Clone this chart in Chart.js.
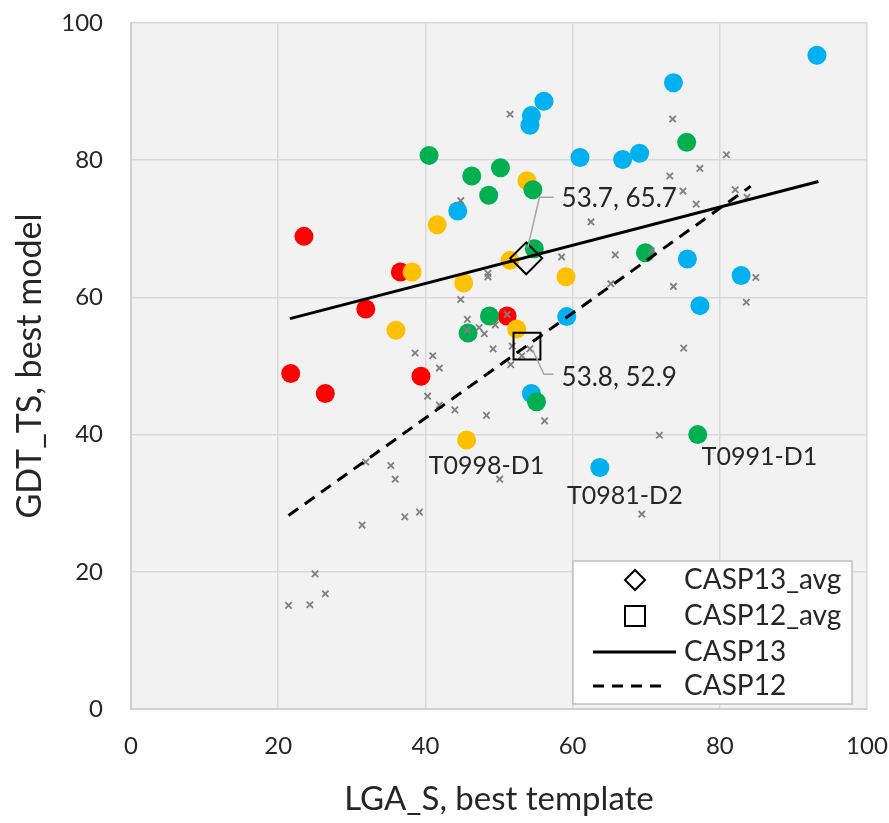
<!DOCTYPE html>
<html>
<head>
<meta charset="utf-8">
<script src="https://cdn.jsdelivr.net/npm/chart.js@4.4.1/dist/chart.umd.min.js"></script>
<style>
  html, body { margin: 0; padding: 0; background: #fff; }
  #chart { display: block; }
</style>
</head>
<body>
<canvas id="chart" width="889" height="823"></canvas>
<script>
// axis ticks
const xTicks = [0, 20, 40, 60, 80, 100];
const yTicks = [0, 20, 40, 60, 80, 100];

// CASP13 targets, coloured by group
const redX = [21.7, 23.5, 26.4, 31.9, 36.6, 39.4, 51.1];
const redY = [48.9, 68.9, 46.0, 58.3, 63.7, 48.5, 57.3];

const yellowX = [36.0, 38.2, 41.6, 45.2, 45.6, 51.5, 52.4, 53.8, 59.1];
const yellowY = [55.2, 63.7, 70.6, 62.1, 39.2, 65.4, 55.4, 77.0, 63.0];

const greenX = [40.5, 46.3, 48.6, 50.2, 54.6, 54.8, 48.7, 45.8, 55.1, 69.9, 75.5, 77.0];
const greenY = [80.7, 77.7, 74.9, 78.9, 75.7, 67.1, 57.3, 54.8, 44.8, 66.5, 82.6, 40.0];

const blueX = [44.4, 54.2, 54.4, 56.1, 54.4, 59.2, 61.0, 66.8, 69.1, 63.7, 73.7, 75.6, 77.3, 82.9, 93.2];
const blueY = [72.6, 85.1, 86.5, 88.6, 46.0, 57.2, 80.4, 80.1, 81.0, 35.2, 91.3, 65.6, 58.8, 63.2, 95.3];

// CASP12 targets (grey crosses)
const casp12X = [51.5, 73.6, 80.9, 77.3, 73.2, 75.0, 82.1, 83.7, 76.8, 44.8, 62.5, 58.5, 65.8, 70.7,
  48.5, 48.5, 84.9, 65.2, 73.7, 44.8, 83.6, 51.1, 45.7, 45.7, 47.3, 48.0, 49.5, 38.6, 41.0, 41.9,
  49.2, 51.8, 54.2, 53.1, 51.6, 75.1, 40.3, 41.9, 44.0, 48.3, 56.2, 71.8, 31.9, 35.3, 35.9, 50.1,
  39.2, 37.2, 31.4, 69.4, 25.0, 26.4, 21.4, 24.3];
const casp12Y = [86.7, 86.0, 80.8, 78.8, 77.7, 75.5, 75.7, 74.6, 73.6, 74.1, 71.0, 65.9, 66.2, 66.8,
  63.5, 63.0, 62.9, 62.0, 61.6, 59.7, 59.3, 57.5, 56.8, 55.2, 55.6, 54.7, 56.0, 51.9, 51.5, 49.7,
  52.5, 52.9, 52.5, 51.5, 50.2, 52.6, 45.6, 44.3, 43.6, 42.8, 42.0, 39.9, 36.0, 35.5, 33.5, 33.5,
  28.7, 28.0, 26.8, 28.4, 19.7, 16.8, 15.1, 15.2];

// averages
const casp13Avg = [53.7, 65.7];
const casp12Avg = [53.8, 52.9];

// linear trend lines (end points)
const casp13TrendX = [21.6, 93.4];
const casp13TrendY = [56.9, 76.9];
const casp12TrendX = [21.4, 84.2];
const casp12TrendY = [28.2, 76.2];

// text annotations, positions in data units
const avgLabels = [
  { text: '53.7, 65.7', from: [53.9, 67.3], bend: [55.5, 74.6], to: [57.4, 74.6], at: [58.5, 74.4] },
  { text: '53.8, 52.9', from: [54.6, 52.3], bend: [56.1, 48.8], to: [57.4, 48.8], at: [58.5, 48.3] },
];
const targetLabels = [
  ['T0998-D1', 48.3, 35.4],
  ['T0981-D2', 67.1, 31.0],
  ['T0991-D1', 85.4, 36.7],
];

const legendItems = ['CASP13_avg', 'CASP12_avg', 'CASP13', 'CASP12'];

const FONT = 'Lato, "Open Sans", sans-serif';
const TEXT_COLOR = '#262626';

const toPoints = (xs, ys) => xs.map((x, i) => ({ x: x, y: ys[i] }));

function dotSet(label, xs, ys, color, order) {
  return {
    label: label,
    data: toPoints(xs, ys),
    pointStyle: 'circle',
    pointRadius: 9.5,
    pointBorderWidth: 0,
    backgroundColor: color,
    borderColor: color,
    order: order,
  };
}

const plotBackground = {
  id: 'plotBackground',
  beforeDraw(chart) {
    const { ctx, chartArea: a } = chart;
    ctx.save();
    ctx.fillStyle = '#f2f2f2';
    ctx.fillRect(a.left, a.top, a.width, a.height);
    ctx.restore();
  },
};

const annotations = {
  id: 'annotations',
  afterDatasetsDraw(chart) {
    const { ctx, scales: { x, y } } = chart;
    const px = (p) => [x.getPixelForValue(p[0]), y.getPixelForValue(p[1])];
    ctx.save();
    // leader lines + avg labels
    avgLabels.forEach((a) => {
      const f = px(a.from), b = px(a.bend), t = px(a.to), at = px(a.at);
      ctx.strokeStyle = '#a6a6a6';
      ctx.lineWidth = 1.5;
      ctx.beginPath();
      ctx.moveTo(f[0], f[1]);
      ctx.lineTo(b[0], b[1]);
      ctx.lineTo(t[0], t[1]);
      ctx.stroke();
      ctx.fillStyle = TEXT_COLOR;
      ctx.font = '26px ' + FONT;
      ctx.textAlign = 'left';
      ctx.textBaseline = 'middle';
      ctx.fillText(a.text, at[0], at[1]);
    });
    // target labels
    ctx.font = '25px ' + FONT;
    ctx.textAlign = 'center';
    ctx.textBaseline = 'middle';
    targetLabels.forEach(([text, vx, vy]) => {
      const p = px([vx, vy]);
      ctx.fillText(text, p[0], p[1]);
    });
    ctx.restore();
  },
  afterDraw(chart) {
    // legend box in the bottom right of the plot
    const { ctx, chartArea: a } = chart;
    const w = 279, h = 143;
    const left = a.right - 15 - w, top = a.bottom - 5 - h;
    ctx.save();
    ctx.fillStyle = '#ffffff';
    ctx.strokeStyle = '#bfbfbf';
    ctx.lineWidth = 1.5;
    ctx.fillRect(left, top, w, h);
    ctx.strokeRect(left, top, w, h);

    const markX = left + 62;
    const textX = left + 111;
    const rowY = [top + 19, top + 55, top + 91, top + 125];
    ctx.strokeStyle = '#000';
    ctx.lineWidth = 2;
    // diamond
    ctx.beginPath();
    ctx.moveTo(markX, rowY[0] - 10);
    ctx.lineTo(markX + 10, rowY[0]);
    ctx.lineTo(markX, rowY[0] + 10);
    ctx.lineTo(markX - 10, rowY[0]);
    ctx.closePath();
    ctx.stroke();
    // square
    ctx.strokeRect(markX - 10, rowY[1] - 10, 20, 20);
    // solid line
    ctx.lineWidth = 3;
    ctx.beginPath();
    ctx.moveTo(left + 20, rowY[2]);
    ctx.lineTo(left + 103, rowY[2]);
    ctx.stroke();
    // dashed line
    ctx.setLineDash([11, 8]);
    ctx.beginPath();
    ctx.moveTo(left + 20, rowY[3]);
    ctx.lineTo(left + 96, rowY[3]);
    ctx.stroke();
    ctx.setLineDash([]);

    ctx.fillStyle = TEXT_COLOR;
    ctx.font = '28px ' + FONT;
    ctx.textAlign = 'left';
    ctx.textBaseline = 'middle';
    legendItems.forEach((t, i) => ctx.fillText(t, textX, rowY[i]));
    ctx.restore();
  },
};

const ctx = document.getElementById('chart').getContext('2d');
new Chart(ctx, {
  type: 'scatter',
  data: {
    datasets: [
      {
        label: 'CASP13_avg',
        data: [{ x: casp13Avg[0], y: casp13Avg[1] }],
        pointStyle: 'rectRot',
        pointRadius: 16,
        pointBorderWidth: 2,
        borderColor: '#000',
        backgroundColor: 'rgba(0,0,0,0)',
        order: 1,
      },
      {
        label: 'CASP12_avg',
        data: [{ x: casp12Avg[0], y: casp12Avg[1] }],
        pointStyle: 'rect',
        pointRadius: 19,
        pointBorderWidth: 2,
        borderColor: '#000',
        backgroundColor: 'rgba(0,0,0,0)',
        order: 2,
      },
      {
        label: 'CASP13',
        type: 'line',
        data: toPoints(casp13TrendX, casp13TrendY),
        borderColor: '#000',
        borderWidth: 3,
        pointRadius: 0,
        fill: false,
        order: 3,
      },
      {
        label: 'CASP12',
        type: 'line',
        data: toPoints(casp12TrendX, casp12TrendY),
        borderColor: '#000',
        borderWidth: 3,
        borderDash: [12, 8],
        pointRadius: 0,
        fill: false,
        order: 4,
      },
      {
        label: 'CASP12 targets',
        data: toPoints(casp12X, casp12Y),
        pointStyle: 'crossRot',
        pointRadius: 4.5,
        pointBorderWidth: 1.8,
        borderColor: '#7f7f7f',
        backgroundColor: '#7f7f7f',
        order: 5,
      },
      dotSet('green', greenX, greenY, '#00b050', 6),
      dotSet('yellow', yellowX, yellowY, '#ffc000', 7),
      dotSet('red', redX, redY, '#ff0000', 8),
      dotSet('blue', blueX, blueY, '#00b0f0', 9),
    ],
  },
  options: {
    responsive: false,
    animation: false,
    events: [],
    layout: { padding: { left: 0, top: 23, right: 22, bottom: 0 } },
    plugins: {
      legend: { display: false },
      tooltip: { enabled: false },
    },
    scales: {
      x: {
        type: 'linear',
        min: 0,
        max: 100,
        afterBuildTicks: (s) => { s.ticks = xTicks.map((v) => ({ value: v })); },
        afterFit: (s) => { s.height = 114; },
        // label gap comes from an invisible tick mark so it does not pad the chart edges
        ticks: { font: { family: FONT, size: 24 }, color: TEXT_COLOR, padding: 0 },
        grid: { color: '#d9d9d9', lineWidth: 1.5, drawTicks: true, tickLength: 23, tickColor: 'rgba(0,0,0,0)' },
        border: { display: true, color: '#d0d0d0', width: 2 },
        title: {
          display: true,
          text: 'LGA_S, best template',
          font: { family: FONT, size: 33 },
          color: TEXT_COLOR,
          padding: { top: 0, bottom: 4 },
        },
      },
      y: {
        type: 'linear',
        min: 0,
        max: 100,
        afterBuildTicks: (s) => { s.ticks = yTicks.map((v) => ({ value: v })); },
        afterFit: (s) => { s.width = 131; },
        ticks: { font: { family: FONT, size: 24 }, color: TEXT_COLOR, padding: 0 },
        grid: { color: '#d9d9d9', lineWidth: 1.5, drawTicks: true, tickLength: 28, tickColor: 'rgba(0,0,0,0)' },
        border: { display: true, color: '#d0d0d0', width: 2 },
        title: {
          display: true,
          text: 'GDT_TS, best model',
          font: { family: FONT, size: 34 },
          color: TEXT_COLOR,
          padding: { top: 10, bottom: 0 },
        },
      },
    },
  },
  plugins: [plotBackground, annotations],
});
</script>
</body>
</html>
